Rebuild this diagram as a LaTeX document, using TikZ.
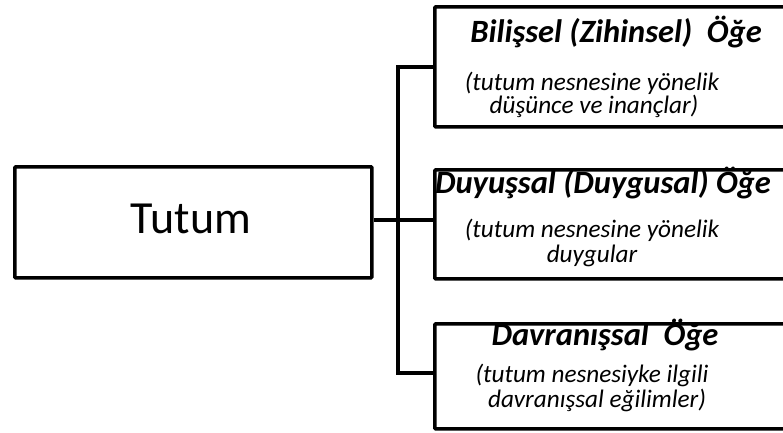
\documentclass[tikz,border=0pt]{standalone}
\usepackage{fontspec}
\setmainfont{Carlito}
\begin{document}
\begin{tikzpicture}[x=1pt,y=-1pt,
  box/.style={draw=black,line width=3.6pt,rounded corners=1pt,fill=white,inner sep=0pt,anchor=north west},
  conn/.style={draw=black,line width=3.6pt},
  head/.style={font=\fontsize{32.5}{36}\selectfont\bfseries\itshape,anchor=base,inner sep=0pt},
  body/.style={font=\fontsize{25.2}{28}\selectfont\itshape,anchor=base,inner sep=0pt,align=center},
  main/.style={font=\fontsize{46}{50}\selectfont,anchor=base,inner sep=0pt}]
\useasboundingbox (0,0) rectangle (783,432);
\clip (0,0) rectangle (783,432);
% boxes
\node[box,minimum width=357pt,minimum height=111pt] (tutumbox) at (13,165) {};
\node[box,minimum width=380pt,minimum height=120pt] (b1) at (433,5) {};
\node[box,minimum width=380pt,minimum height=109pt] (b2) at (433,168) {};
\node[box,minimum width=380pt,minimum height=105pt] (b3) at (433,322) {};
% connectors
\coordinate (j1) at (398,67);
\coordinate (j2) at (398,220);
\coordinate (j3) at (398,373);
\draw[conn] (tutumbox.east |- j2) -- (j2);
\draw[conn] (j1 -| b1.west) -- (j1) -- (j3) -- (j3 -| b3.west);
\draw[conn] (j2) -- (j2 -| b2.west);
% texts
\node[main] (tutum) at (191,233) {Tutum};
\node[head] (h1) at (616,42) {Bilişsel (Zihinsel)\ \ Öğe};
\node[body] (t1a) at (592,90) {(tutum nesnesine yönelik};
\node[body] (t1b) at (594,113) {düşünce ve inançlar)};
\node[head] (h2) at (603,193) {Duyuşsal (Duygusal) Öğe};
\node[body] (t2a) at (592,237) {(tutum nesnesine yönelik};
\node[body] (t2b) at (592,262) {duygular};
\node[head] (h3) at (605,345) {Davranışsal\ \ Öğe};
\node[body] (t3a) at (592,382) {(tutum nesnesiyke ilgili};
\node[body] (t3b) at (597,407) {davranışsal eğilimler)};
\end{tikzpicture}
\end{document}
